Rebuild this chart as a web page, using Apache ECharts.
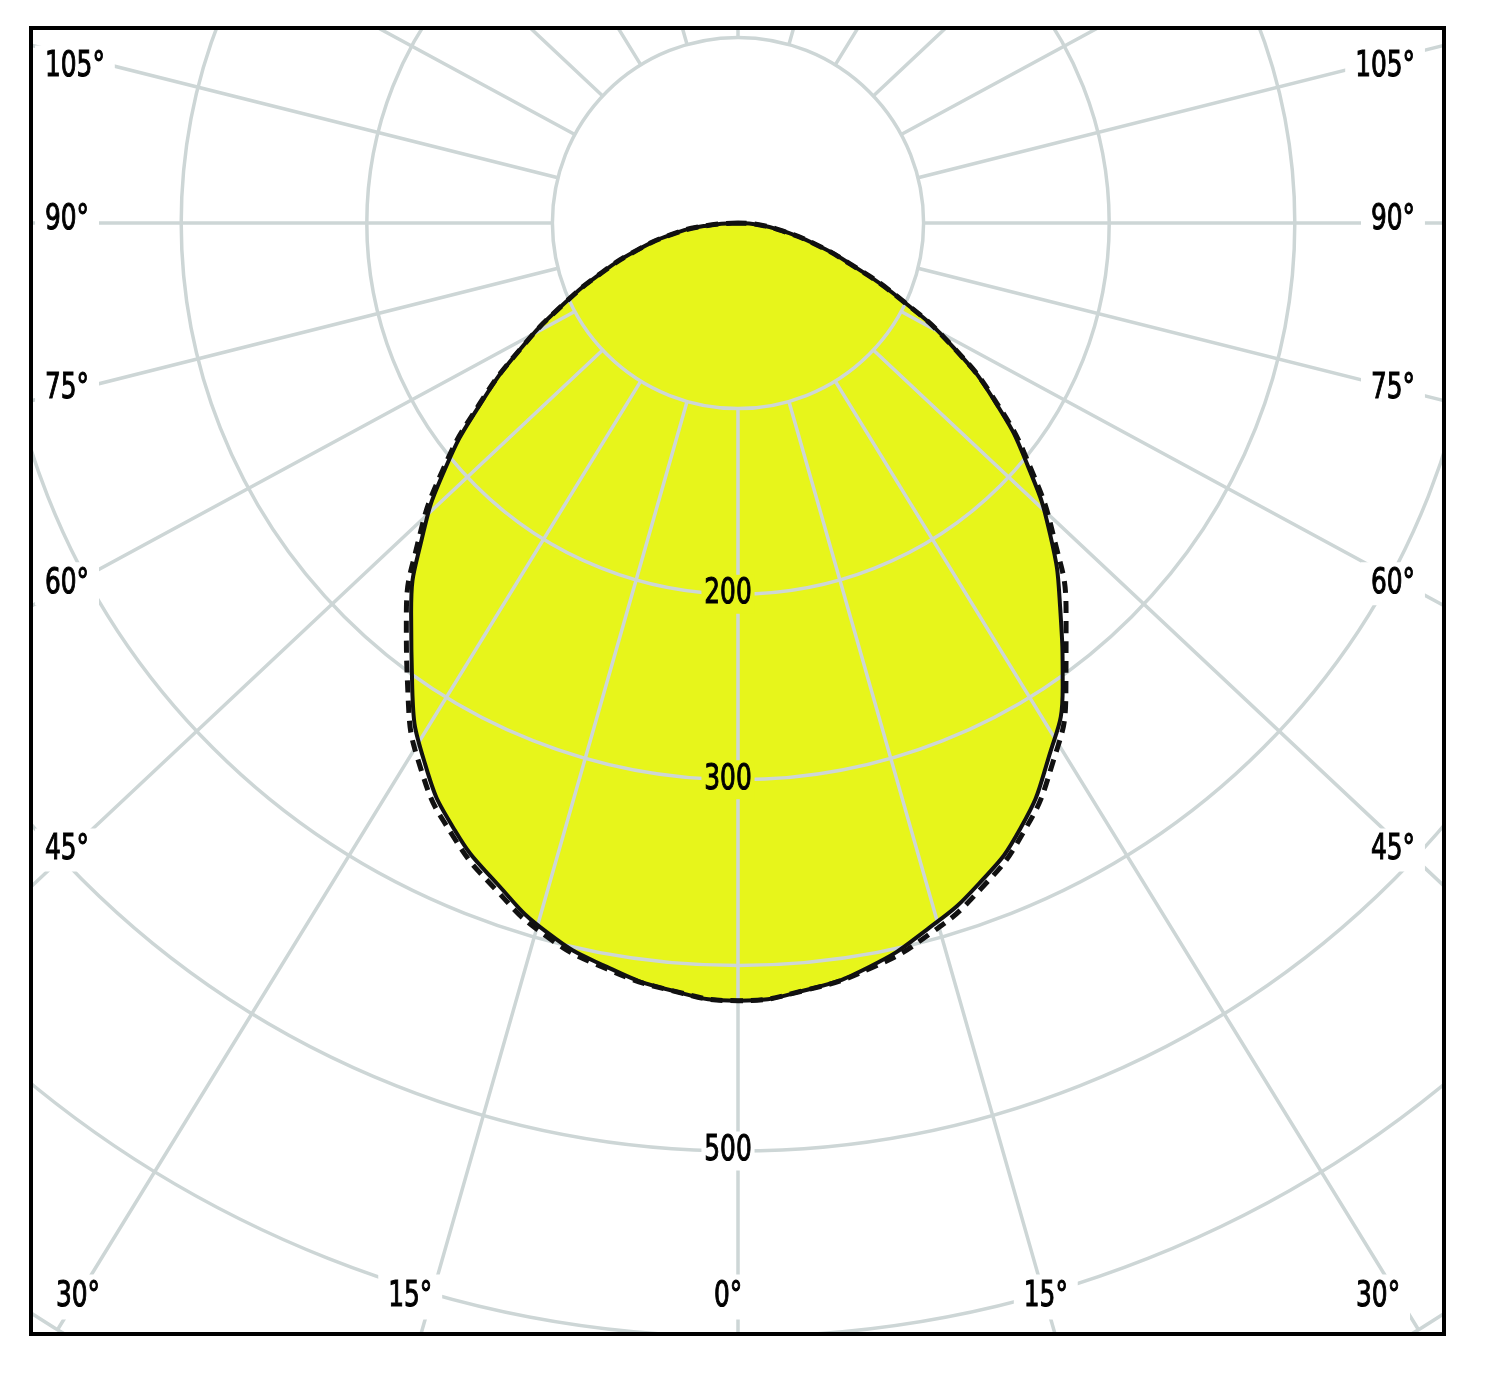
<!DOCTYPE html>
<html>
<head>
<meta charset="utf-8">
<style>
html,body{margin:0;padding:0;background:#ffffff;}
#chart{width:1500px;height:1377px;}
</style>
<script src="https://cdn.jsdelivr.net/npm/echarts@6/dist/echarts.min.js"></script>
</head>
<body>
<div id="chart"></div>
<script>
// ---------------- data ----------------
// gamma: angle from nadir in degrees
const gammaDeg = [0, 5, 10, 15, 20, 25, 30, 35, 40, 45, 50, 55, 60, 65, 70, 75, 80, 85, 90];
// solid curve: left half (C180) and right half (C0), cd/klm
const solidLeft  = [419, 415, 407, 396, 379, 361, 337, 306, 274, 241, 206, 169, 135, 104, 78, 56, 37, 18, 0];
const solidRight = [418, 415, 407, 394, 379, 360, 334, 305, 270, 238, 204, 170, 134, 96, 64, 42, 24, 12, 0];
// dashed curve (C90 / C270)
const dashedLeft  = [419, 415, 408, 398, 382, 364, 341, 310, 278, 244, 208, 170, 135, 104, 78, 56, 37, 18, 0];
const dashedRight = [418, 415, 408, 397, 382, 363, 338, 308, 275, 241, 206, 171, 134, 96, 64, 42, 24, 12, 0];
// tick labels
const sideAngleLabels = [105, 90, 75, 60, 45];
const bottomAngleLabels = [30, 15, 0];
const radiusLabels = [200, 300, 500];
const radiusMin = 100, radiusMax = 700, radiusStep = 100;

// ---------------- layout / style ----------------
const CX = 738, CY = 223;          // pole
const PX_PER_UNIT = 1.856;          // pixels per cd/klm
const R_OUT = radiusMax * PX_PER_UNIT;
const R_IN = radiusMin * PX_PER_UNIT;
const K_RAY = 1.065;                // the reference's rays are slightly stretched sideways
const FILL = '#e7f51b';
const GRID = '#cdd6d6';
const FONT = '"DejaVu Sans", Verdana, sans-serif';
const FONT_SIZE = 35, SCALE_X = 0.71;

function rayAngle(a) {
  const r = a * Math.PI / 180;
  let d = Math.atan2(K_RAY * Math.sin(r), Math.cos(r)) * 180 / Math.PI;
  if (d < 0) d += 360;
  return d;
}
const gridAngles = [];
for (let a = 0; a < 360; a += 15) gridAngles.push(rayAngle(a));

// polar data: [radius, angle]; angle measured clockwise from nadir (left side = gamma, right side = 360 - gamma)
function curve(left, right) {
  const out = [];
  for (let i = gammaDeg.length - 1; i >= 0; i--) out.push([left[i], gammaDeg[i]]);
  for (let i = 1; i < gammaDeg.length; i++) out.push([right[i], 360 - gammaDeg[i]]);
  return out;
}
const solidData = curve(solidLeft, solidRight);
const dashedData = curve(dashedLeft, dashedRight);

// ---------------- graphic texts ----------------
const graphics = [];
// masks outside the frame
[[0, 0, 31, 1377], [1444, 0, 56, 1377], [0, 0, 1500, 28], [0, 1334, 1500, 43]].forEach(function (r) {
  graphics.push({ type: 'rect', z: 50, silent: true, shape: { x: r[0], y: r[1], width: r[2], height: r[3] }, style: { fill: '#ffffff' } });
});
graphics.push({ type: 'rect', z: 60, silent: true, shape: { x: 31, y: 28, width: 1413, height: 1306 }, style: { fill: null, stroke: '#000000', lineWidth: 4 } });

// x is the text edge (left/right) or text centre; padding is added outside it
function addText(txt, x, y, align, bg, padH, padV) {
  let ax = x;
  if (align === 'left') ax = x - padH * SCALE_X;
  if (align === 'right') ax = x + padH * SCALE_X;
  graphics.push({
    type: 'text', z: 70, silent: true, x: ax, y: y, scaleX: SCALE_X,
    style: {
      text: txt, fill: '#000000', stroke: '#000000', lineWidth: 1.1,
      fontSize: FONT_SIZE, fontFamily: FONT,
      align: align, textAlign: align, verticalAlign: 'middle', textVerticalAlign: 'middle',
      backgroundColor: bg, padding: [padV, padH, padV, padH]
    }
  });
}
const LABEL_RADIUS = 630, LABEL_TOP = 67;
sideAngleLabels.forEach(function (g) {
  const t = g * Math.PI / 180;
  const y = Math.max(LABEL_TOP, CY - 3 + LABEL_RADIUS * Math.cos(t) / Math.sin(t));
  addText(g + '°', 45, y, 'left', '#ffffff', 14, 4);
  addText(g + '°', 1415, y, 'right', '#ffffff', 14, 4);
});
const bottomY = 1297;
bottomAngleLabels.forEach(function (g) {
  const t = g * Math.PI / 180;
  const dx = (bottomY - CY) * Math.tan(t) + (g === 0 ? 0 : 30);
  if (g === 0) {
    addText(g + '°', CX - 10, bottomY, 'center', '#ffffff', 10, 5);
  } else {
    addText(g + '°', CX - 10 - dx, bottomY, 'center', '#ffffff', 14, 5);
    addText(g + '°', CX - 10 + dx, bottomY, 'center', '#ffffff', 14, 5);
  }
});
radiusLabels.forEach(function (r) {
  const bg = r < solidLeft[0] ? FILL : '#ffffff';
  addText(String(r), CX - 10, CY + r * PX_PER_UNIT, 'center', bg, 4, 2);
});

// ---------------- chart ----------------
const chart = echarts.init(document.getElementById('chart'), null, { renderer: 'canvas' });
const hiddenAxis = { show: true, axisLine: { show: false }, axisTick: { show: false }, axisLabel: { show: false }, splitLine: { show: false }, splitArea: { show: false } };
chart.setOption({
  animation: false,
  backgroundColor: '#ffffff',
  polar: [
    { center: [CX, CY], radius: [0, R_OUT] },
    { center: [CX, CY], radius: [R_IN, R_OUT] }
  ],
  angleAxis: [
    Object.assign({ polarIndex: 0, type: 'value', min: 0, max: 360, interval: 15, startAngle: 270, clockwise: true }, hiddenAxis),
    {
      polarIndex: 1, type: 'value', min: 0, max: 360, interval: 15, startAngle: 270, clockwise: true, z: 3,
      axisLine: { show: false },
      axisTick: { show: false, customValues: gridAngles },
      axisLabel: { show: false, customValues: gridAngles },
      splitLine: { show: true, lineStyle: { color: GRID, width: 3.5 } },
      splitArea: { show: false }
    }
  ],
  radiusAxis: [
    Object.assign({ polarIndex: 0, type: 'value', min: 0, max: radiusMax }, hiddenAxis),
    {
      polarIndex: 1, type: 'value', min: radiusMin, max: radiusMax, interval: radiusStep, z: 3,
      axisLine: { show: false }, axisTick: { show: false }, axisLabel: { show: false },
      splitLine: { show: true, lineStyle: { color: GRID, width: 3.5 } },
      splitArea: { show: false }
    }
  ],
  series: [
    {
      type: 'line', coordinateSystem: 'polar', polarIndex: 0, z: 1, data: solidData,
      symbol: 'none', smooth: 0.5, silent: true,
      lineStyle: { width: 0, opacity: 0 }, areaStyle: { color: FILL, opacity: 1 }
    },
    {
      type: 'line', coordinateSystem: 'polar', polarIndex: 0, z: 5, data: dashedData,
      symbol: 'none', smooth: 0.5, silent: true,
      lineStyle: { color: '#111111', width: 5, type: [12, 8] }
    },
    {
      type: 'line', coordinateSystem: 'polar', polarIndex: 0, z: 6, data: solidData,
      symbol: 'none', smooth: 0.5, silent: true,
      lineStyle: { color: '#111111', width: 4 }
    }
  ],
  graphic: { elements: graphics }
});
</script>
</body>
</html>
